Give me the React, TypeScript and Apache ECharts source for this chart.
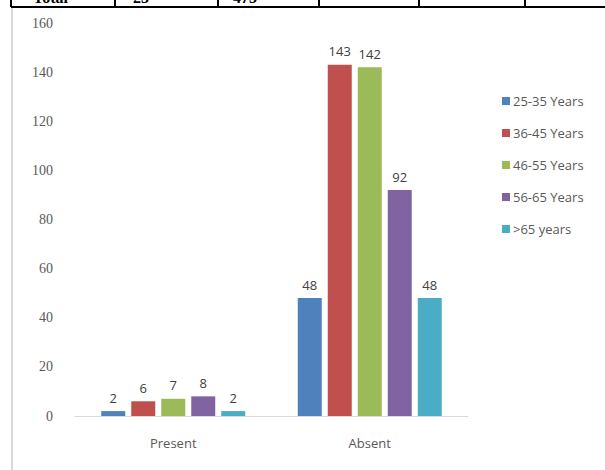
import React, { useEffect, useRef } from "react";
import * as echarts from "echarts";

const categories = ["Present", "Absent"];
const seriesNames = ["25-35 Years", "36-45 Years", "46-55 Years", "56-65 Years", ">65 years"];
const age25to35 = [2, 48];
const age36to45 = [6, 143];
const age46to55 = [7, 142];
const age56to65 = [8, 92];
const ageOver65 = [2, 48];
const yTicks = { min: 0, max: 160, interval: 20 };
const tableRow = ["Total", "25", "473"];

const colors = ["#4f81bd", "#c0504d", "#9bbb59", "#8064a2", "#4bacc6"];

export default function App() {
  const ref = useRef<HTMLDivElement>(null);
  useEffect(() => {
    document.body.style.margin = "0";
    const chart = echarts.init(ref.current!, null, { renderer: "svg" });
    const values = [age25to35, age36to45, age46to55, age56to65, ageOver65];
    const sans = "Open Sans";
    const colLines = [11, 115, 218, 319, 419, 525];
    const textX = [33, 133, 233];
    chart.setOption({
      animation: false,
      backgroundColor: "#ffffff",
      color: colors,
      grid: { left: 75, right: 137, top: 23, bottom: 54, containLabel: false },
      legend: {
        orient: "vertical",
        left: 497,
        top: 88,
        itemWidth: 8,
        itemHeight: 8,
        itemGap: 16,
        icon: "rect",
        data: seriesNames,
        textStyle: { color: "#595959", fontSize: 13, fontFamily: sans, lineHeight: 16, padding: [0, 0, 0, -2] },
      },
      xAxis: {
        type: "category",
        data: categories,
        axisLine: { lineStyle: { color: "#d9d9d9", width: 1 } },
        axisTick: { show: false },
        axisLabel: { color: "#595959", fontSize: 13, fontFamily: sans, margin: 20 },
      },
      yAxis: {
        type: "value",
        min: yTicks.min,
        max: yTicks.max,
        interval: yTicks.interval,
        splitLine: { show: false },
        axisLine: { show: false },
        axisTick: { show: false },
        axisLabel: { color: "#595959", fontSize: 14, fontFamily: "Liberation Serif", margin: 22 },
      },
      series: seriesNames.map((name, i) => ({
        name,
        type: "bar",
        data: values[i],
        barWidth: 24,
        barGap: "25%",
        itemStyle: { color: colors[i] },
        label: {
          show: true,
          position: "top",
          distance: 7,
          color: "#404040",
          fontSize: 13,
          fontFamily: sans,
        },
      })),
      graphic: [
        {
          type: "line",
          shape: { x1: 11, y1: 7, x2: 605, y2: 7 },
          style: { stroke: "#000", lineWidth: 2 },
          silent: true,
        },
        ...colLines.map((x) => ({
          type: "line",
          shape: { x1: x, y1: 0, x2: x, y2: 7 },
          style: { stroke: "#000", lineWidth: 2 },
          silent: true,
        })),
        {
          type: "line",
          shape: { x1: 12, y1: 8, x2: 12, y2: 470 },
          style: { stroke: "#d9d9d9", lineWidth: 2 },
          silent: true,
        },
        ...tableRow.map((t, i) => ({
          type: "text",
          x: textX[i],
          y: 5,
          style: {
            text: t,
            fill: "#000",
            font: "bold 16px 'Liberation Serif'",
            textVerticalAlign: "bottom",
            verticalAlign: "bottom",
          },
          silent: true,
        })),
      ],
    });
    return () => chart.dispose();
  }, []);
  return <div ref={ref} style={{ position: "fixed", left: 0, top: 0, width: 605, height: 470 }} />;
}
